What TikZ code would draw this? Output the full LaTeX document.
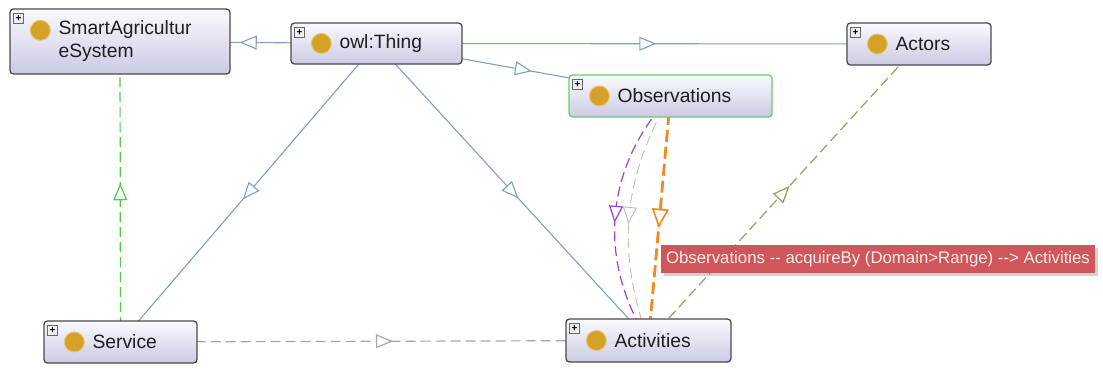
\documentclass[tikz,border=0pt]{standalone}
\usepackage{fontspec}
\setmainfont{Liberation Sans}
\usetikzlibrary{arrows.meta,decorations.markings,backgrounds,shadows,calc}
\definecolor{edgeblue}{HTML}{7FA0C6}
\definecolor{nodeborder}{HTML}{4A4A4E}
\definecolor{nodetop}{HTML}{FAFAFE}
\definecolor{nodebot}{HTML}{CACAE4}
\definecolor{obsborder}{HTML}{6CCB6C}
\definecolor{owlgold}{HTML}{D6A128}
\definecolor{owlring}{HTML}{EBC56A}
\definecolor{dashgreen}{HTML}{4CCB4C}
\definecolor{dashgray}{HTML}{A6A6A6}
\definecolor{dasholive}{HTML}{9C9E58}
\definecolor{dashpurple}{HTML}{9B3FE0}
\definecolor{dashtan}{HTML}{C4BFA6}
\definecolor{dashorange}{HTML}{F2891E}
\definecolor{tipred}{HTML}{CF575C}
\definecolor{tiptext}{HTML}{FBEDED}
\tikzset{
  cls/.style={draw=nodeborder, line width=1.3pt, rounded corners=3.5pt,
    top color=nodetop, bottom color=nodebot, inner sep=0pt},
  plusbox/.style={draw=gray!80!black, fill=gray!12, line width=0.5pt,
    minimum size=10pt, inner sep=0pt, anchor=north west,
    font=\fontsize{10}{10}\selectfont\bfseries},
  owldot/.style={circle, fill=owlgold, draw=owlring, line width=1pt,
    minimum size=20pt, inner sep=0pt},
  clstext/.style={anchor=west, inner sep=0pt, text=black!88,
    font=\fontsize{19.3}{23}\selectfont, align=left},
  midarrow/.style={postaction={decorate}, decoration={markings,
    mark=at position 0.5 with {\arrow[xshift=#1]{Triangle[open, length=17pt, width=14pt, fill=white]}}}},
  midarrow/.default=8.5pt,
  subedge/.style={draw=edgeblue, line width=1.1pt, midarrow},
  dashedge/.style={line width=1.2pt, dash pattern=on 10pt off 5pt, midarrow},
}
\newcommand{\clsdeco}[3]{% name, text, yoffset of dot from center
  \node[plusbox] (#1p) at ([xshift=4pt,yshift=-5pt]#1.north west) {+};
  \node[owldot] (#1d) at ([xshift=31pt,yshift=#3]#1.west) {};
  \node[clstext] (#1t) at ([xshift=49pt,yshift=#3]#1.west) {#2};
}
\begin{document}
\begin{tikzpicture}[x=1pt,y=1pt]
\useasboundingbox (0,0) rectangle (1103,-370);

% class nodes
\node[cls, minimum width=220pt, minimum height=65pt] (sas) at (120,-41.5) {};
\node[cls, minimum width=171pt, minimum height=41pt] (thing) at (376.5,-43.5) {};
\node[cls, minimum width=144pt, minimum height=42pt] (actors) at (919,-44) {};
\node[cls, draw=obsborder, minimum width=203pt, minimum height=42pt] (obs) at (670.5,-96) {};
\node[cls, minimum width=153pt, minimum height=42pt] (svc) at (120.5,-342) {};
\node[cls, minimum width=165pt, minimum height=43pt] (act) at (648.5,-340.5) {};

\node[plusbox] (sasp) at ([xshift=4pt,yshift=-5pt]sas.north west) {+};
\node[owldot] (sasd) at ([xshift=31pt,yshift=-22pt]sas.north west) {};
\node[clstext] (sast) at ([xshift=49pt,yshift=-33pt]sas.north west) {SmartAgricultur\\eSystem};
\clsdeco{thing}{owl:Thing}{0pt}
\clsdeco{actors}{Actors}{0pt}
\clsdeco{obs}{Observations}{0pt}
\clsdeco{svc}{Service}{0pt}
\clsdeco{act}{Activities}{0pt}

% connectors
\begin{scope}[on background layer]
  \fill[white] (0,0) rectangle (1103,-370);
  \draw[subedge] (thing.center) -- (sas.center);
  \draw[subedge] (thing.center) -- (actors.center);
  \draw[subedge] (thing.center) -- (obs.center);
  \draw[subedge] (thing.center) -- (svc.center);
  \draw[subedge] (thing.center) -- (act.center);
  \draw[dashedge, draw=dashgreen] (svc.center) -- (sas.center);
  \draw[dashedge, draw=dashgray] (svc.center) -- (act.center);
  \draw[dashedge, draw=dasholive] (act.center) -- (actors.center);
  \draw[dashedge, draw=dashpurple] (obs.center) to[bend right=38] (act.center);
  \draw[dashedge, draw=dashtan, line width=0.9pt] (obs.center) to[bend right=25] (act.center);
  \draw[line width=2.8pt, draw=dashorange, dash pattern=on 12pt off 5pt,
    postaction={decorate}, decoration={markings, mark=at position 0.5 with {\arrow[xshift=9.5pt]{Triangle[open, length=19pt, width=17pt, fill=white, line width=1.6pt]}}}]
    (obs.center) -- (act.center);
\end{scope}

% tooltip label
\node[fill=tipred, minimum width=434pt, minimum height=28pt, inner sep=0pt,
  drop shadow={shadow xshift=2.5pt, shadow yshift=-2.5pt, opacity=0.35},
  text=tiptext, font=\fontsize{16.8}{18}\selectfont] (tip) at (878,-259)
  {Observations -{}- acquireBy (Domain>Range) -{}-> Activities};
\end{tikzpicture}
\end{document}
